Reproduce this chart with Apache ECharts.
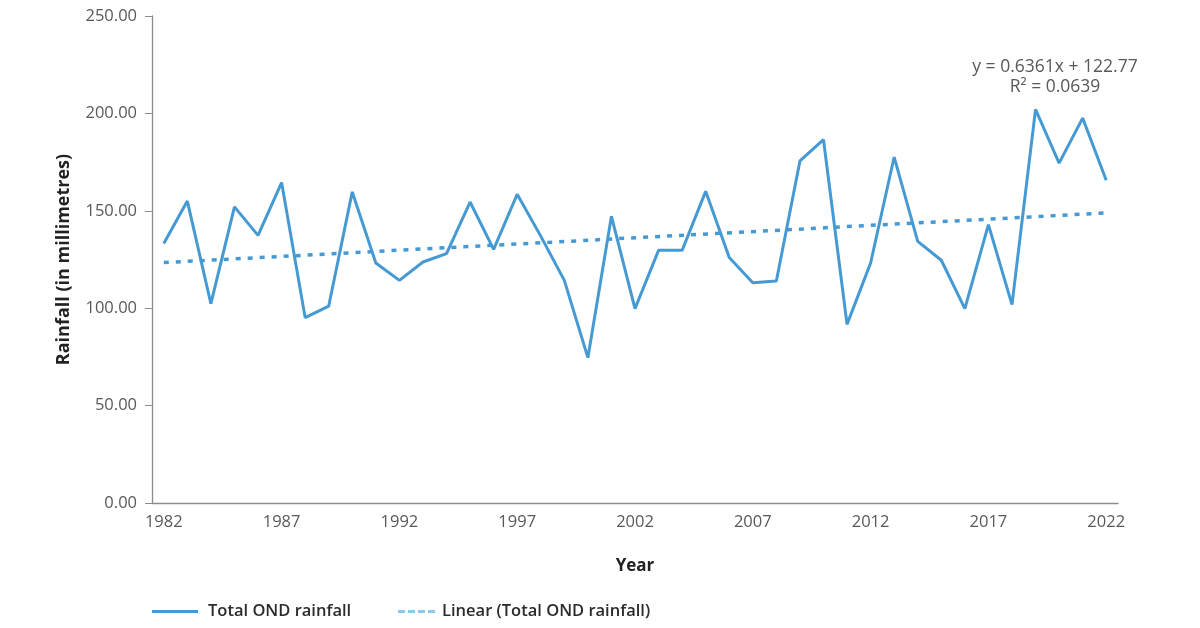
<!DOCTYPE html>
<html><head><meta charset="utf-8">
<script src="https://cdn.jsdelivr.net/npm/echarts@6/dist/echarts.min.js"></script>
<style>html,body{margin:0;padding:0;background:#fff}#c{width:1200px;height:628px}</style>
</head><body><div id="c"></div>
<script>
const years = [];
for (let y = 1982; y <= 2022; y++) years.push(String(y));
const rainfall = [133.2,155.0,102.3,152.0,137.4,164.5,95.2,101.1,159.7,123.2,114.3,123.7,128.0,154.5,130.2,158.5,137.0,114.3,74.6,147.2,99.8,129.7,129.7,160.0,126.0,113.1,114.0,175.6,186.5,91.7,123.2,177.6,134.3,124.6,99.8,142.9,101.8,202.1,174.5,197.6,165.7];
// trend line endpoints (first and last year)
const trend = [123.4].concat(new Array(39).fill(null)).concat([148.9]);
const yTicks = ['0.00','50.00','100.00','150.00','200.00','250.00'];
const eqLines = ['y = 0.6361x + 122.77', 'R\u00B2 = 0.0639'];

const chart = echarts.init(document.getElementById('c'));
const font = 'Open Sans';
const legendText = {fontFamily: font, fontSize: 16.5, fontWeight: 600, color: '#2b2b2b'};
chart.setOption({
  animation: false,
  grid: {left: 152, right: 82, top: 16, bottom: 125},
  xAxis: {
    type: 'category', data: years, boundaryGap: true,
    name: 'Year', nameLocation: 'middle', nameGap: 55,
    nameTextStyle: {fontFamily: font, fontWeight: 'bold', fontSize: 17, color: '#222'},
    axisLine: {lineStyle: {color: '#8c8c8c', width: 1.3}},
    axisTick: {show: false},
    axisLabel: {interval: 4, color: '#595959', fontFamily: font, fontSize: 16.5, margin: 11}
  },
  yAxis: {
    type: 'value', min: 0, max: 250, interval: 50,
    name: 'Rainfall (in millimetres)', nameLocation: 'middle', nameGap: 79,
    nameTextStyle: {fontFamily: font, fontWeight: 'bold', fontSize: 18, color: '#222'},
    axisLine: {show: true, lineStyle: {color: '#8c8c8c', width: 1.3}},
    axisTick: {show: true, length: 7, lineStyle: {color: '#8c8c8c'}},
    splitLine: {show: false},
    axisLabel: {color: '#595959', fontFamily: font, fontSize: 16.5, margin: 15,
      formatter: v => yTicks[Math.round(v / 50)]}
  },
  legend: [
    {left: 152, top: 603, padding: 0, itemWidth: 46, itemHeight: 14,
     textStyle: Object.assign({padding: [0, 0, 0, 5]}, legendText),
     data: [{name: 'Total OND rainfall', icon: 'path://M0,6h46v3h-46z', itemStyle: {color: '#459ad4'}}]},
    {left: 398, top: 603, padding: 0, itemWidth: 37, itemHeight: 14,
     textStyle: Object.assign({padding: [0, 0, 0, 2]}, legendText),
     data: [{name: 'Linear (Total OND rainfall)', icon: 'path://M0,6h7v3h-7zM10,6h7v3h-7zM20,6h7v3h-7zM30,6h7v3h-7z', itemStyle: {color: '#8cc8ec'}}]}
  ],
  series: [
    {name: 'Total OND rainfall', type: 'line', data: rainfall, symbol: 'none',
     lineStyle: {color: '#459ad4', width: 3}, itemStyle: {color: '#459ad4'}},
    {name: 'Linear (Total OND rainfall)', type: 'line', data: trend, symbol: 'none', connectNulls: true,
     lineStyle: {color: '#459ad4', width: 3.5, type: [5, 7]}, itemStyle: {color: '#8cc8ec'}}
  ],
  graphic: [
    {type: 'text', x: 1055, y: 58, style: {text: eqLines[0], font: '17.5px "Open Sans"', fill: '#595959', textAlign: 'center'}},
    {type: 'text', x: 1055, y: 78, style: {text: eqLines[1], font: '17.5px "Open Sans"', fill: '#595959', textAlign: 'center'}}
  ]
});
</script></body></html>
